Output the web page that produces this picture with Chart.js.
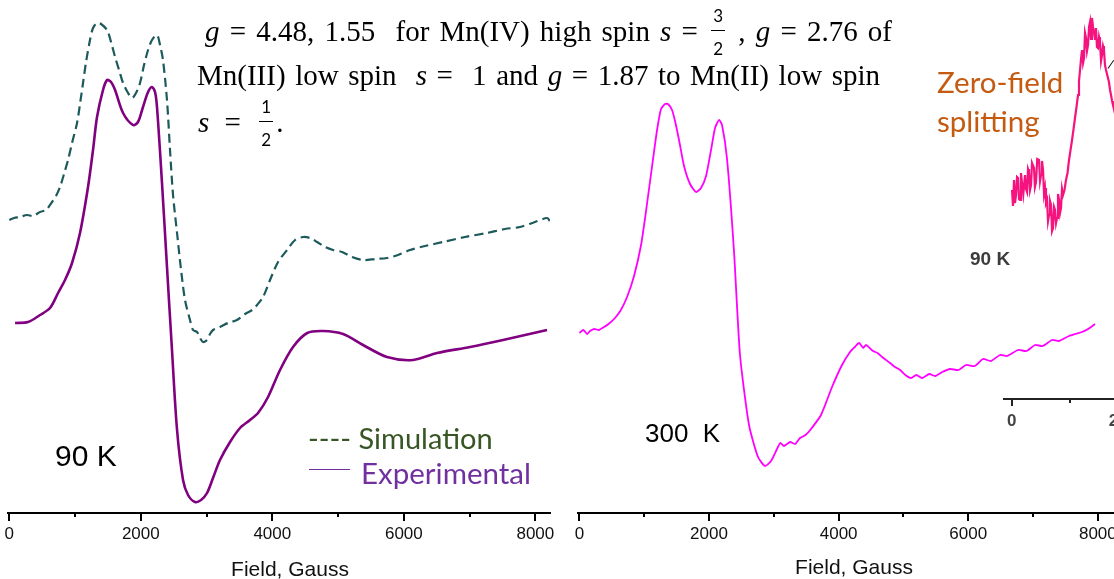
<!DOCTYPE html>
<html>
<head>
<meta charset="utf-8">
<title>EPR spectra</title>
<script src="https://cdn.jsdelivr.net/npm/chart.js@4.4.0/dist/chart.umd.min.js"></script>
<style>
  html, body { margin: 0; padding: 0; background: #fff; }
  body { width: 1114px; height: 579px; position: relative; overflow: hidden; font-family: "Liberation Sans", Arial, sans-serif; }
  canvas { position: absolute; top: 0; }
  .lbl { position: absolute; white-space: nowrap; line-height: 1; }
  .axt { font-size: 21px; color: #111; transform: translate(-50%, -50%); }
  .t { position: absolute; white-space: nowrap; font-family: "Liberation Serif", "Times New Roman", serif; font-size: 29px; line-height: 1; color: #000; }
  .t i { font-style: italic; }
  /* stacked fraction that does not grow the line box */
  .frac { position: relative; display: inline-block; width: 14px; height: 23px; margin: 0 3px; font-family: "Lato", "Noto Sans", sans-serif; font-size: 17px; line-height: 1; }
  .frac span { position: absolute; left: 0; width: 14px; text-align: center; }
  .frac .num { top: -11px; }
  .frac .bar { top: 12px; height: 0; border-top: 1.6px solid #000; }
  .frac .den { top: 22px; }
  .cal { font-family: "Lato", "Noto Sans", sans-serif; }
</style>
</head>
<body>
<canvas id="c90" width="560" height="579" style="left:0"></canvas>
<canvas id="c300" width="560" height="579" style="left:570px"></canvas>
<canvas id="cZfs" width="220" height="440" style="left:960px"></canvas>

<div class="t" data-w="687" style="left:205px; top:17px"><i>g</i> = 4.48, 1.55&nbsp; for Mn(IV) high spin <i>s</i> = <span class="frac"><span class="num">3</span><span class="bar"></span><span class="den">2</span></span> , <i>g</i> = 2.76 of</div>
<div class="t" data-w="683" style="left:197px; top:61px">Mn(III) low spin&nbsp; <i>s</i> =&nbsp; 1 and <i>g</i> = 1.87 to Mn(II) low spin</div>
<div class="t" style="left:198px; top:108px; word-spacing:8px"><i>s</i> =&nbsp;<span class="frac"><span class="num">1</span><span class="bar"></span><span class="den">2</span></span>.</div>

<div class="lbl" style="left:55px; top:441px; font-size:30px; color:#000">90 K</div>
<div class="lbl" style="left:645px; top:420px; font-size:26px; color:#000">300&nbsp; K</div>
<div class="lbl cal" style="left:308px; top:423px; font-size:29px; color:#375623">---- Simulation</div>
<div style="position:absolute; left:309px; top:469px; width:41px; height:0; border-top:1.3px solid #7030a0"></div>
<div class="lbl cal" style="left:361px; top:458px; font-size:29.5px; color:#7030a0">Experimental</div>
<div class="lbl axt" style="left:290px; top:568px">Field, Gauss</div>
<div class="lbl axt" style="left:854px; top:566px">Field, Gauss</div>

<div class="lbl cal" style="left:937px; top:62px; font-size:29.5px; color:#c55a11; line-height:39px">Zero-field<br>splitting</div>
<div class="lbl" style="left:970px; top:249px; font-size:19px; font-weight:bold; color:#3c3c3c">90 K</div>
<div style="position:absolute; left:1108px; top:68px; width:10px; height:0; border-top:1.6px solid #111; transform:rotate(-55deg); transform-origin:left center"></div>

<script>
// 90 K experimental spectrum (purple), field in Gauss, signal in a.u.
const fieldExp90 = [87, 284, 467, 619, 741, 847, 954, 1075, 1197, 1273, 1334, 1425, 1486, 1547, 1608, 1730, 1881, 1957, 2033, 2110, 2170, 2216, 2246, 2322, 2398, 2474, 2551, 2642, 2718, 2824, 2916, 3007, 3098, 3204, 3357, 3509, 3661, 3783, 3935, 4117, 4315, 4531, 4772, 5076, 5380, 5744, 6140, 6505, 7007, 7509, 8178];
const expSignal90 = [190, 191, 198, 205, 220, 233, 250, 280, 326, 363, 396, 423, 433, 431, 423, 400, 388, 391, 406, 421, 426, 421, 406, 330, 246, 163, 83, 33, 18, 11, 13, 20, 35, 53, 71, 85, 93, 100, 116, 143, 166, 180, 182, 179, 168, 156, 153, 160, 166, 173, 183];

// 90 K simulation (dashed)
const fieldSim90 = [0, 72, 163, 269, 360, 467, 558, 650, 710, 771, 832, 893, 954, 1030, 1075, 1121, 1167, 1227, 1273, 1334, 1395, 1486, 1547, 1608, 1669, 1730, 1806, 1867, 1927, 1988, 2049, 2110, 2170, 2246, 2292, 2337, 2398, 2444, 2490, 2551, 2612, 2672, 2748, 2794, 2855, 2900, 2946, 3007, 3052, 3098, 3204, 3326, 3463, 3585, 3692, 3768, 3859, 3965, 4087, 4224, 4346, 4467, 4573, 4680, 4802, 4924, 5061, 5213, 5380, 5563, 5744, 5912, 6094, 6322, 6596, 6930, 7265, 7539, 7767, 7995, 8178, 8220];
const simSignal90 = [293, 295, 296, 298, 297, 301, 303, 311, 317, 326, 339, 353, 370, 390, 409, 430, 451, 473, 485, 490, 489, 483, 471, 456, 443, 430, 420, 415, 420, 430, 448, 463, 473, 478, 468, 453, 413, 363, 318, 280, 243, 213, 193, 183, 181, 175, 171, 173, 179, 183, 186, 190, 193, 199, 203, 208, 216, 233, 251, 263, 273, 276, 275, 271, 266, 263, 261, 256, 253, 254, 255, 258, 263, 267, 271, 276, 280, 284, 286, 291, 295, 292];

// 300 K experimental spectrum (magenta)
const field300 = [0, 60, 120, 164, 230, 300, 380, 450, 549, 640, 735, 843, 951, 1028, 1136, 1198, 1259, 1321, 1367, 1429, 1475, 1537, 1614, 1707, 1799, 1876, 1954, 2031, 2093, 2154, 2201, 2278, 2386, 2478, 2617, 2756, 2864, 2957, 3049, 3100, 3157, 3250, 3330, 3404, 3490, 3574, 3728, 3898, 4052, 4176, 4250, 4315, 4380, 4423, 4531, 4600, 4670, 4793, 4870, 4948, 5030, 5117, 5200, 5287, 5400, 5488, 5600, 5719, 5850, 5966, 6100, 6228, 6350, 6491, 6600, 6769, 6900, 7031, 7150, 7293, 7400, 7556, 7650, 7756, 7850, 7957];
const signal300 = [180, 183, 179, 182, 184, 183, 186, 189, 195, 203, 216, 237, 268, 302, 354, 383, 404, 409, 409, 403, 392, 373, 347, 329, 321, 325, 337, 363, 385, 393, 388, 354, 261, 158, 88, 56, 47, 52, 64, 70, 67, 71, 69, 75, 78, 84, 98, 126, 148, 161, 166, 170, 165, 168, 162, 160, 156, 150, 146, 143, 138, 135, 138, 135, 139, 137, 141, 144, 143, 148, 147, 154, 152, 158, 157, 163, 162, 168, 167, 173, 172, 177, 179, 181, 184, 189];

// 90 K inset, zero-field splitting region
const fieldZfs = [5, 22, 40, 57, 74, 92, 109, 126, 143, 160, 178, 200, 229, 246, 264, 281, 298, 315, 333, 350, 384, 400, 419, 440, 471, 488, 505, 522, 540, 557, 574, 591, 609, 626, 643, 660, 678, 695, 712, 730, 747, 764, 781, 798, 816, 833, 850, 867, 885, 910, 936, 962, 988, 1014, 1040, 1066, 1091, 1117, 1143, 1160, 1178, 1195, 1212, 1230, 1247, 1264, 1281, 1298, 1316, 1333, 1350, 1367, 1384, 1402, 1419, 1436, 1453, 1470, 1488, 1505, 1522, 1540, 1557, 1574, 1591, 1608, 1626, 1651, 1677, 1695, 1712, 1730, 1746, 1772, 1798];
const signalZfs = [209, 193, 219, 196, 204, 222, 221, 200, 199, 226, 216, 205, 224, 210, 207, 230, 227, 209, 214, 236, 231, 212, 217, 240, 239, 218, 224, 238, 229, 205, 211, 196, 199, 178, 184, 198, 194, 168, 171, 192, 189, 176, 181, 205, 199, 186, 191, 210, 204, 209, 219, 226, 239, 249, 259, 270, 281, 292, 304, 318, 329, 340, 349, 336, 341, 366, 361, 348, 354, 372, 377, 360, 381, 372, 367, 360, 371, 352, 351, 362, 357, 338, 344, 353, 349, 334, 329, 323, 317, 309, 304, 298, 294, 288, 281];

// axis ticks
const majorTicks = [0, 2000, 4000, 6000, 8000];
const minorTicks = [0, 1000, 2000, 3000, 4000, 5000, 6000, 7000, 8000];
const insetMajorTicks = [0, 2000];
const insetMinorTicks = [0, 1000, 2000];

// stretch the annotation lines to the width they take in the figure
document.querySelectorAll('[data-w]').forEach(function(el) {
    const target = Number(el.dataset.w);
    const gaps = (el.textContent.match(/[ \u00a0]/g) || []).length;
    const diff = target - el.getBoundingClientRect().width;
    if (gaps) el.style.wordSpacing = (diff / gaps) + 'px';
});

function toPoints(xs, ys) {
    return xs.map(function(x, i) { return { x: x, y: ys[i] }; });
}

function buildPanel(canvasId, datasets, cfg) {
    const ctx = document.getElementById(canvasId).getContext('2d');
    return new Chart(ctx, {
        type: 'scatter',
        data: { datasets: datasets },
        options: {
            responsive: false,
            animation: false,
            events: [],
            layout: { padding: cfg.padding },
            plugins: { legend: { display: false }, tooltip: { enabled: false } },
            elements: { point: { radius: 0 } },
            scales: {
                // minor tick marks only, zero height so they sit on the same axis line
                xMinor: {
                    type: 'linear', position: 'bottom', min: cfg.xMin, max: cfg.xMax,
                    afterBuildTicks: function(s) { s.ticks = cfg.minor.map(function(v) { return { value: v }; }); },
                    afterFit: function(s) { s.height = 0; },
                    ticks: { display: false },
                    grid: { drawOnChartArea: false, tickLength: cfg.minorLen, color: cfg.axisColor, lineWidth: cfg.axisWidth },
                    border: { display: false }
                },
                x: {
                    type: 'linear', position: 'bottom', min: cfg.xMin, max: cfg.xMax,
                    afterBuildTicks: function(s) { s.ticks = cfg.major.map(function(v) { return { value: v }; }); },
                    afterFit: function(s) { s.height = cfg.axisHeight; },
                    ticks: {
                        autoSkip: false, maxRotation: 0, padding: cfg.tickPad, color: cfg.tickColor,
                        font: cfg.tickFont,
                        callback: function(v) { return String(v); }
                    },
                    grid: { drawOnChartArea: false, tickLength: cfg.majorLen, color: cfg.axisColor, lineWidth: cfg.axisWidth },
                    border: { display: true, color: cfg.axisColor, width: cfg.axisWidth }
                },
                y: { type: 'linear', display: false, min: 0, max: cfg.yMax }
            }
        }
    });
}

buildPanel('c90', [
    {
        data: toPoints(fieldSim90, simSignal90), showLine: true,
        borderColor: '#1d5a5c', borderWidth: 2.2, borderDash: [9, 5], tension: 0.3
    },
    {
        data: toPoints(fieldExp90, expSignal90), showLine: true,
        borderColor: '#800080', borderWidth: 2.6, tension: 0.3
    }
], {
    padding: { left: 8, right: 10, top: 0, bottom: 0 },
    xMin: -20, xMax: 8223, yMax: 513, axisHeight: 66,
    major: majorTicks, minor: minorTicks, majorLen: 8, minorLen: 4,
    axisColor: '#000', axisWidth: 2, tickPad: 3, tickColor: '#111',
    tickFont: { family: '"Liberation Sans", Arial, sans-serif', size: 17 }
});

buildPanel('c300', [
    {
        data: toPoints(field300, signal300), showLine: true,
        borderColor: '#ff00ff', borderWidth: 1.8, tension: 0.2
    }
], {
    padding: { left: 8, right: 10, top: 0, bottom: 0 },
    xMin: -22, xMax: 8342, yMax: 513, axisHeight: 66,
    major: majorTicks, minor: minorTicks, majorLen: 8, minorLen: 4,
    axisColor: '#000', axisWidth: 2, tickPad: 3, tickColor: '#111',
    tickFont: { family: '"Liberation Sans", Arial, sans-serif', size: 17 }
});

buildPanel('cZfs', [
    {
        data: toPoints(fieldZfs, signalZfs), showLine: true,
        borderColor: '#f5147f', borderWidth: 2.2, tension: 0
    }
], {
    padding: { left: 44, right: 10, top: 0, bottom: 0 },
    xMin: -133, xMax: 2729, yMax: 399, axisHeight: 41,
    major: insetMajorTicks, minor: insetMinorTicks, majorLen: 7, minorLen: 4,
    axisColor: '#222', axisWidth: 2, tickPad: 5, tickColor: '#444',
    tickFont: { family: '"Liberation Sans", Arial, sans-serif', size: 17, weight: 'bold' }
});
</script>
</body>
</html>
